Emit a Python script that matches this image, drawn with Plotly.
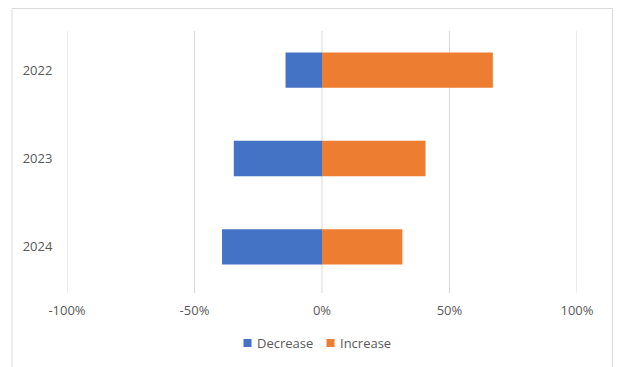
import plotly.graph_objects as go

years = ["2022", "2023", "2024"]
decrease = [-0.143, -0.346, -0.392]
increase = [0.67, 0.406, 0.315]
x_ticks = [-1, -0.5, 0, 0.5, 1]
x_tick_labels = ["-100%", "-50%", "0%", "50%", "100%"]
series_names = ["Decrease", "Increase"]
series_colors = ["#4472C4", "#ED7D31"]

fig = go.Figure()
fig.add_trace(go.Bar(y=years, x=decrease, name=series_names[0], orientation="h",
                     marker=dict(color=series_colors[0], line=dict(width=0))))
fig.add_trace(go.Bar(y=years, x=increase, name=series_names[1], orientation="h",
                     marker=dict(color=series_colors[1], line=dict(width=0))))

W, H = 631, 367
l, r, t, b = 67, 54, 26, 76
pw, ph = W - l - r, H - t - b

def px_x(p):
    return (p - l) / pw

def px_y(p):
    return (H - b - p) / ph

shapes = [dict(type="rect", xref="paper", yref="paper",
               x0=px_x(12), x1=px_x(612.5), y0=px_y(369), y1=px_y(8.5),
               line=dict(color="#d9d9d9", width=1), fillcolor="rgba(0,0,0,0)",
               layer="below")]
for v in x_ticks:
    shapes.append(dict(type="line", xref="x", yref="paper",
                       x0=v, x1=v, y0=px_y(293), y1=px_y(31),
                       line=dict(color="#d9d9d9", width=1), layer="below"))
annotations = []
legend_x = [243.5, 326.5]
for name, color, lx in zip(series_names, series_colors, legend_x):
    shapes.append(dict(type="rect", xref="paper", yref="paper",
                       x0=px_x(lx), x1=px_x(lx + 8), y0=px_y(347), y1=px_y(339),
                       line=dict(width=0), fillcolor=color))
    annotations.append(dict(text=name, xref="paper", yref="paper",
                            x=px_x(lx + 11), y=px_y(343), xanchor="left", yanchor="middle",
                            showarrow=False, font=dict(size=13, color="#595959")))

fig.update_layout(
    width=W, height=H,
    margin=dict(l=l, r=r, t=t, b=b),
    barmode="relative",
    bargap=0.6,
    plot_bgcolor="white",
    paper_bgcolor="white",
    showlegend=False,
    font=dict(family="Open Sans", size=13, color="#595959"),
    xaxis=dict(range=[-1, 1], tickvals=x_ticks, ticktext=x_tick_labels,
               showgrid=False, zeroline=False, showline=False,
               ticks="outside", ticklen=7, tickcolor="rgba(0,0,0,0)",
               automargin=False),
    yaxis=dict(categoryorder="array", categoryarray=years, autorange="reversed",
               showgrid=False, zeroline=False, showline=False,
               ticks="outside", ticklen=11, tickcolor="rgba(0,0,0,0)",
               automargin=False),
    shapes=shapes,
    annotations=annotations,
)

fig.write_html("out.html", config={"displayModeBar": False},
               post_script="document.body.style.margin='0';")
